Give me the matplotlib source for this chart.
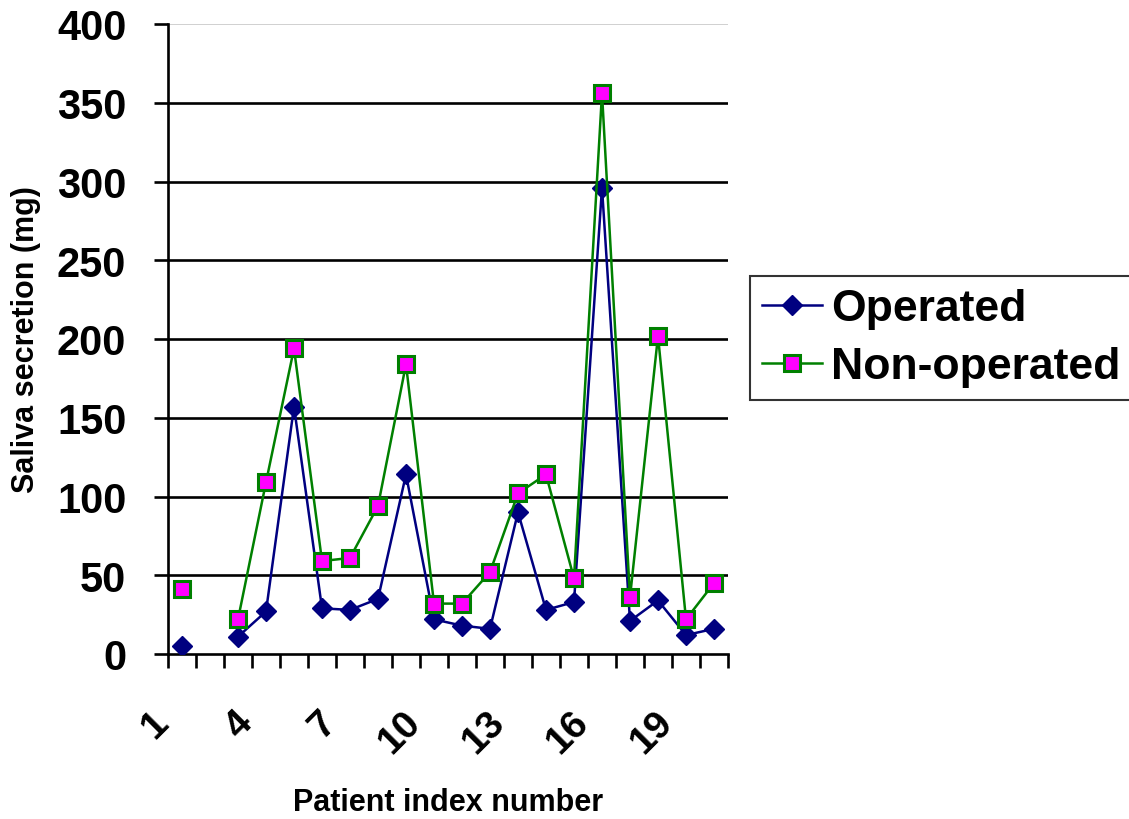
import numpy as np
import matplotlib.pyplot as plt
from matplotlib.ticker import FixedLocator
from matplotlib.transforms import ScaledTranslation

# ---------------------------------------------------------------------------
# Data (patient 2 has no measurement)
# ---------------------------------------------------------------------------

patients = list(range(1, 21))
operated = [5, np.nan, 11, 27, 157, 29, 28, 35, 114, 22,
            18, 16, 90, 28, 33, 296, 21, 34, 12, 16]
non_operated = [41, np.nan, 22, 109, 194, 59, 61, 94, 184, 32,
                32, 52, 102, 114, 48, 356, 36, 202, 22, 45]
tick_patients = [1, 4, 7, 10, 13, 16, 19]
y_ticks = [0, 50, 100, 150, 200, 250, 300, 350, 400]

FONT = "Liberation Sans"

fig = plt.figure(figsize=(11.29, 8.2), dpi=100)
ax = fig.add_axes([168 / 1129, 1 - 655 / 820, 560 / 1129, 630 / 820])

ax.plot(patients, operated, color="#000080", lw=1.8, marker="D",
        ms=10, mfc="#000080", mec="#000080", label="Operated", zorder=3)
ax.plot(patients, non_operated, color="#008000", lw=1.8, marker="s",
        ms=12, mfc="#FF00FF", mec="#008000", mew=2.2, label="Non-operated",
        zorder=4)

ax.set_xlim(0.5, 20.5)
ax.set_ylim(0, 400)

# gridlines
for v in y_ticks[1:-1]:
    ax.axhline(v, color="black", lw=1.9, zorder=1)
ax.axhline(400, color="#c8c8c8", lw=1.2, zorder=1)

for s in ["top", "right"]:
    ax.spines[s].set_visible(False)
for s in ["left", "bottom"]:
    ax.spines[s].set_linewidth(1.9)

ax.set_yticks(y_ticks)
ax.tick_params(axis="y", length=10, width=1.9, direction="out", pad=20)
ax.set_yticklabels([str(v) for v in y_ticks], fontsize=30,
                   fontweight="bold", family=FONT)

ax.set_xticks(tick_patients)
ax.set_xticklabels([str(p) for p in tick_patients], fontsize=28,
                   fontweight="bold", family=FONT, rotation=45,
                   ha="right", rotation_mode="anchor")
ax.tick_params(axis="x", which="major", length=0, pad=36)
shift = ScaledTranslation(-32 / 100, 0, fig.dpi_scale_trans)
for lbl in ax.get_xticklabels():
    lbl.set_transform(lbl.get_transform() + shift)
ax.xaxis.set_minor_locator(FixedLocator(np.arange(0.5, 21, 1.0)))
ax.tick_params(axis="x", which="minor", length=10, width=1.9,
               direction="out")

fig.text(26 / 1129, 1 - 340 / 820, "Saliva secretion (mg)", fontsize=22,
         fontweight="bold", family=FONT, rotation=90,
         ha="center", va="center")
fig.text(448 / 1129, 1 - 803 / 820, "Patient index number", fontsize=22,
         fontweight="bold", family=FONT, ha="center", va="center")

leg = ax.legend(loc="upper left", bbox_to_anchor=(750 / 1129, 1 - 277 / 820),
                bbox_transform=fig.transFigure, frameon=True, fancybox=False,
                prop={"family": FONT, "weight": "bold", "size": 32},
                handlelength=1.35, handletextpad=0.2, borderpad=0.28,
                labelspacing=0.38, borderaxespad=0)
leg.get_frame().set_edgecolor("black")
leg.get_frame().set_linewidth(1.5)

fig.savefig("out.png", dpi=100)
